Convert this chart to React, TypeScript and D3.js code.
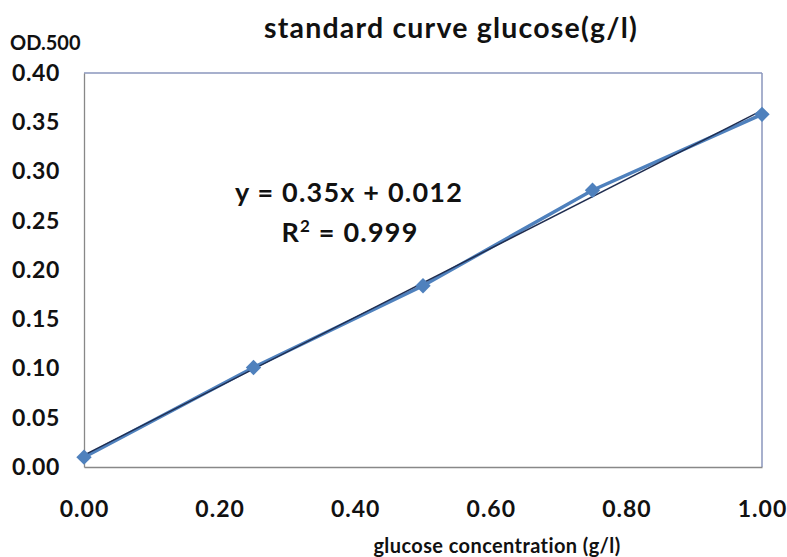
import { useEffect, useRef } from 'react';
import * as d3 from 'd3';

const concentrations = [0, 0.25, 0.5, 0.75, 1.0];
const odValues = [0.01, 0.101, 0.184, 0.281, 0.358];
const xTicks = [0, 0.2, 0.4, 0.6, 0.8, 1.0];
const yTicks = [0, 0.05, 0.1, 0.15, 0.2, 0.25, 0.3, 0.35, 0.4];
const slope = 0.35;
const intercept = 0.012;

const W = 787;
const H = 557;
const FONT = 'Lato, "Open Sans", "DejaVu Sans", sans-serif';

export default function App() {
  const svgRef = useRef<SVGSVGElement>(null);

  useEffect(() => {
    if (!svgRef.current) return;
    const svg = d3.select(svgRef.current);
    svg.selectAll('*').remove();

    const M = { top: 73, right: 25, bottom: 90, left: 84 };
    const iW = W - M.left - M.right;
    const iH = H - M.top - M.bottom;

    const x = d3.scaleLinear().domain([0, 1]).range([M.left, M.left + iW]);
    const y = d3.scaleLinear().domain([0, 0.4]).range([M.top + iH, M.top]);

    svg.append('rect').attr('width', W).attr('height', H).attr('fill', '#fff');

    // plot frame: top/right bluish, left/bottom gray
    svg.append('line')
      .attr('x1', x(0)).attr('x2', x(1)).attr('y1', y(0.4)).attr('y2', y(0.4))
      .attr('stroke', '#8a96bd').attr('stroke-width', 1.5);
    svg.append('line')
      .attr('x1', x(1)).attr('x2', x(1)).attr('y1', y(0.4)).attr('y2', y(0))
      .attr('stroke', '#8a96bd').attr('stroke-width', 1.5);

    // y axis
    svg.append('g')
      .attr('transform', `translate(${x(0)},0)`)
      .call(d3.axisLeft(y).tickValues(yTicks).tickSize(0).tickPadding(24).tickFormat(d3.format('.2f')))
      .call(g => g.select('.domain').attr('stroke', '#888').attr('stroke-width', 1.3))
      .call(g => g.selectAll('.tick text')
        .attr('fill', '#111').attr('font-size', 23).attr('font-weight', 700).attr('font-family', FONT)
        .attr('letter-spacing', 0.6));

    // x axis
    svg.append('g')
      .attr('transform', `translate(0,${y(0)})`)
      .call(d3.axisBottom(x).tickValues(xTicks).tickSize(0).tickPadding(34).tickFormat(d3.format('.2f')))
      .call(g => g.select('.domain').attr('stroke', '#888').attr('stroke-width', 1.3))
      .call(g => g.selectAll('.tick text')
        .attr('fill', '#111').attr('font-size', 23).attr('font-weight', 700).attr('font-family', FONT)
        .attr('letter-spacing', 1));

    // data series
    const pts = concentrations.map((c, i) => ({ c, v: odValues[i] }));
    svg.append('path').datum(pts)
      .attr('fill', 'none').attr('stroke', '#4f81bd').attr('stroke-width', 3.5)
      .attr('d', d3.line<{ c: number; v: number }>().x(d => x(d.c)).y(d => y(d.v)));

    // linear trendline
    svg.append('line')
      .attr('x1', x(0)).attr('y1', y(intercept))
      .attr('x2', x(1)).attr('y2', y(slope + intercept))
      .attr('stroke', '#1f2d50').attr('stroke-width', 1.5);

    const diamond = d3.symbol().type(d3.symbolDiamond2).size(150);
    svg.append('g').selectAll('path').data(pts).join('path')
      .attr('transform', d => `translate(${x(d.c)},${y(d.v)})`)
      .attr('d', diamond)
      .attr('fill', '#4f81bd');

    // titles
    svg.append('text')
      .attr('x', 451).attr('y', 38).attr('text-anchor', 'middle')
      .attr('font-size', 28.5).attr('font-weight', 700).attr('font-family', FONT).attr('fill', '#111')
      .attr('letter-spacing', 1.2)
      .text('standard curve glucose(g/l)');

    svg.append('text')
      .attr('x', 10).attr('y', 50)
      .attr('font-size', 20).attr('font-weight', 700).attr('font-family', FONT).attr('fill', '#111')
      .text('OD.500');

    svg.append('text')
      .attr('x', 497).attr('y', 553).attr('text-anchor', 'middle')
      .attr('font-size', 20).attr('font-weight', 700).attr('font-family', FONT).attr('fill', '#111')
      .attr('letter-spacing', 0.4)
      .text('glucose concentration (g/l)');

    // equation label
    svg.append('text')
      .attr('x', 349).attr('y', 202).attr('text-anchor', 'middle')
      .attr('font-size', 27).attr('font-weight', 700).attr('font-family', FONT).attr('fill', '#111')
      .attr('letter-spacing', 1.2)
      .text(`y = ${slope}x + ${intercept}`);
    const r2 = svg.append('text')
      .attr('x', 350).attr('y', 242).attr('text-anchor', 'middle')
      .attr('font-size', 27).attr('font-weight', 700).attr('font-family', FONT).attr('fill', '#111')
      .attr('letter-spacing', 1.2);
    r2.append('tspan').text('R');
    r2.append('tspan').attr('font-size', 17).attr('dy', -10).text('2');
    r2.append('tspan').attr('dy', 10).text(' = 0.999');
  }, []);

  return (
    <svg ref={svgRef} width={W} height={H}
      style={{ position: 'absolute', left: 0, top: 0, display: 'block' }} />
  );
}
